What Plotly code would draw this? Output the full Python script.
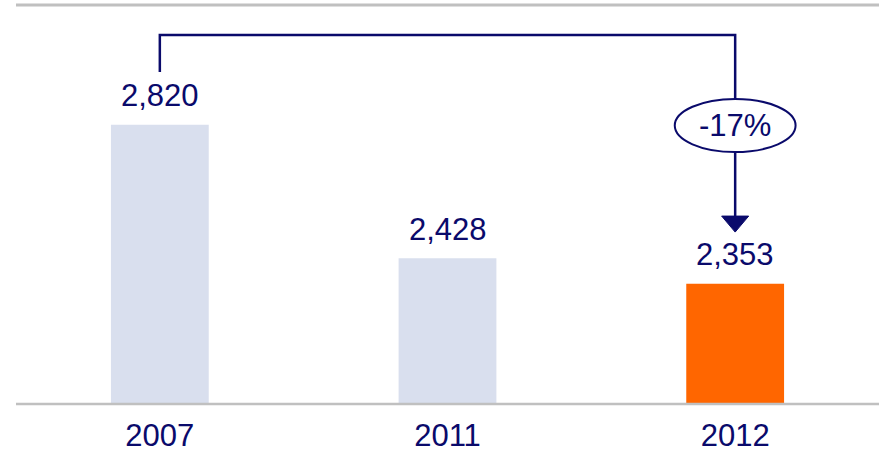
import plotly.graph_objects as go

years = ["2007", "2011", "2012"]
values = [2820, 2428, 2353]
bar_colors = ["#d9dfee", "#d9dfee", "#ff6600"]
value_labels = ["2,820", "2,428", "2,353"]
change_label = "-17%"

NAVY = "#0a0a6b"
FONT = "Liberation Sans, Arial, sans-serif"

fig = go.Figure()
fig.add_trace(go.Bar(
    x=[0, 1, 2], y=values, marker=dict(color=bar_colors, line=dict(width=0)),
    width=0.34, hoverinfo="skip",
))

for i, (v, lab) in enumerate(zip(values, value_labels)):
    fig.add_annotation(x=i, y=v, text=lab, showarrow=False, yanchor="middle",
                       yshift=29, font=dict(size=31, color=NAVY, family=FONT))

# bracket from first to last bar
y_top = values[0] + 264
y_left_bot = values[0] + 155
ell_cy = values[0] - 2
ell_hy = 78
ell_hx = 0.21
tip = values[-1] + 152
head_h = 47
head_w = 0.047
xl, xr = 0, len(values) - 1

line = dict(color=NAVY, width=2.5)
fig.add_shape(type="path", xref="x", yref="y",
              path=f"M {xl} {y_left_bot} L {xl} {y_top} L {xr} {y_top} L {xr} {ell_cy + ell_hy}",
              line=line)
fig.add_shape(type="line", xref="x", yref="y", x0=xr, x1=xr,
              y0=ell_cy - ell_hy, y1=tip + head_h, line=line)
fig.add_shape(type="path", xref="x", yref="y",
              path=f"M {xr - head_w} {tip + head_h} L {xr + head_w} {tip + head_h} L {xr} {tip} Z",
              fillcolor=NAVY, line=dict(color=NAVY, width=1))
fig.add_shape(type="circle", xref="x", yref="y",
              x0=xr - ell_hx, x1=xr + ell_hx, y0=ell_cy - ell_hy, y1=ell_cy + ell_hy,
              fillcolor="white", line=dict(color=NAVY, width=2))
fig.add_annotation(x=xr, y=ell_cy, text=change_label, showarrow=False,
                   font=dict(size=31, color=NAVY, family=FONT))

# top and bottom gray rules
fig.add_shape(type="line", xref="paper", yref="paper", x0=0, x1=1, y0=1, y1=1,
              line=dict(color="#c0c0c0", width=3))
fig.add_shape(type="line", xref="paper", yref="paper", x0=0, x1=1, y0=0, y1=0,
              line=dict(color="#c0c0c0", width=2.5))

fig.update_layout(
    width=881, height=455,
    margin=dict(l=16, r=2, t=5, b=51),
    plot_bgcolor="white", paper_bgcolor="white",
    showlegend=False,
    xaxis=dict(range=[-0.5, 2.5], tickmode="array", tickvals=[0, 1, 2], ticktext=years,
               tickfont=dict(size=31, color=NAVY, family=FONT), showgrid=False,
               zeroline=False, showline=False, ticks="", ticklabelstandoff=10,
               automargin=False),
    yaxis=dict(range=[2000, 3172], visible=False, showgrid=False, zeroline=False,
               automargin=False),
)

fig.write_html("out.html")
